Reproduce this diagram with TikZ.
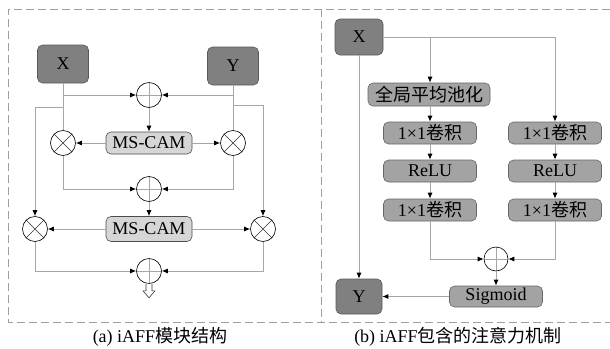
\documentclass[tikz,border=0pt]{standalone}
\usepackage{fontspec}
\setmainfont{Liberation Serif}
\newfontfamily\cjk{Noto Sans CJK SC}
\usetikzlibrary{arrows.meta,positioning}
\tikzset{
  frame/.style={draw=gray!75, line width=0.9pt, dash pattern=on 8pt off 4pt},
  boxbase/.style={rounded corners=5pt, line width=0.6pt, inner sep=0pt,
    font=\fontsize{18}{20}\selectfont, text=black},
  darkbox/.style={boxbase, fill=black!50, draw=black!65},
  lightbox/.style={boxbase, fill=black!16, draw=black!70},
  midbox/.style={boxbase, fill=black!36, draw=black!60},
  circbase/.style={circle, draw=black, line width=0.6pt, minimum size=25pt, inner sep=0pt, fill=white},
  oplus/.style={circbase, path picture={
      \draw[gray!70, line width=0.6pt] (path picture bounding box.north) -- (path picture bounding box.south)
        (path picture bounding box.west) -- (path picture bounding box.east);}},
  otimes/.style={circbase, path picture={
      \draw[black!80, line width=0.6pt] (path picture bounding box.center) ++(45:12.5pt) -- ++(225:25pt)
        (path picture bounding box.center) ++(135:12.5pt) -- ++(-45:25pt);}},
  wire/.style={draw=gray!70, line width=0.9pt},
  conn/.style={wire, -{Latex[length=6pt,width=5pt,color=black]}},
  captext/.style={font=\fontsize{18}{20}\selectfont}
}
\begin{document}
\begin{tikzpicture}[x=1pt,y=-1pt]
\useasboundingbox (0,0) rectangle (610,348);
% frames
\draw[frame] (610,9) -- (8,9) -- (8,322) -- (610,322);
\draw[frame] (321,9) -- (321,322);

% ---------------- left panel ----------------
\node[darkbox, minimum width=51pt, minimum height=38pt] (X) at (63,64) {X};
\node[darkbox, minimum width=51pt, minimum height=38pt] (Y) at (233,66) {Y};
\node[oplus] (p1) at (149,95) {};
\node[lightbox, minimum width=86pt, minimum height=22pt] (m1) at (149,143) {MS-CAM};
\node[otimes] (t1) at (63,143) {};
\node[otimes] (t2) at (233,143) {};
\node[oplus] (p2) at (149,189) {};
\node[lightbox, minimum width=86pt, minimum height=25pt] (m2) at (149,229) {MS-CAM};
\node[otimes] (t3) at (35,229) {};
\node[otimes] (t4) at (263,229) {};
\node[oplus] (p3) at (149,271) {};

\draw[conn] (X.south) |- (p1.west);
\draw[conn] (Y.south) |- (p1.east);
\draw[wire] (X.south) -- (t1.north);
\draw[wire] (Y.south) -- (t2.north);
\coordinate (bx) at (63,107);
\coordinate (by) at (233,105);
\draw[conn] (bx) -| (t3.north);
\draw[conn] (by) -| (t4.north);
\draw[conn] (p1.south) -- (m1.north);
\draw[conn] (m1.west) -- (t1.east);
\draw[conn] (m1.east) -- (t2.west);
\draw[conn] (t1.south) |- (p2.west);
\draw[conn] (t2.south) |- (p2.east);
\draw[conn] (p2.south) -- (m2.north);
\draw[conn] (m2.west) -- (t3.east);
\draw[conn] (m2.east) -- (t4.west);
\draw[conn] (t3.south) |- (p3.west);
\draw[conn] (t4.south) |- (p3.east);
% hollow output arrow
\draw[black!80, line width=0.6pt, fill=white] (p3.south) ++(-3,0) -- ++(0,7) -- ++(-3,0) -- ++(6,7) -- ++(6,-7) -- ++(-3,0) -- ++(0,-7);

\node[captext] (capa) at (160,337) {(a) iAFF{\cjk 模块结构}};

% ---------------- right panel ----------------
\node[darkbox, minimum width=48pt, minimum height=36pt] (X2) at (359,37) {X};
\node[midbox, minimum width=122pt, minimum height=23pt] (gap) at (429,94.5) {\cjk 全局平均池化};
\node[midbox, minimum width=93pt, minimum height=22pt] (c1) at (430,133) {1×1{\cjk 卷积}};
\node[midbox, minimum width=93pt, minimum height=22pt] (r1) at (430,171) {ReLU};
\node[midbox, minimum width=93pt, minimum height=22pt] (c2) at (430,210) {1×1{\cjk 卷积}};
\node[midbox, minimum width=93pt, minimum height=22pt] (c3) at (555,133) {1×1{\cjk 卷积}};
\node[midbox, minimum width=93pt, minimum height=22pt] (r2) at (555,171) {ReLU};
\node[midbox, minimum width=93pt, minimum height=22pt] (c4) at (555,210) {1×1{\cjk 卷积}};
\node[oplus, minimum size=24pt] (p4) at (496,259) {};
\node[midbox, minimum width=93pt, minimum height=21pt] (sig) at (496,296.5) {Sigmoid};
\node[darkbox, minimum width=46pt, minimum height=35pt] (Y2) at (359,296.5) {Y};

\draw[conn] (X2.east) -| (c3.north);
\coordinate (bb) at (430,37);
\draw[conn] (bb) -- (gap.north -| bb);
\draw[conn] (gap.south -| c1.north) -- (c1.north);
\draw[conn] (c1.south) -- (r1.north);
\draw[conn] (r1.south) -- (c2.north);
\draw[conn] (c3.south) -- (r2.north);
\draw[conn] (r2.south) -- (c4.north);
\draw[conn] (c2.south) |- (p4.west);
\draw[conn] (c4.south) |- (p4.east);
\draw[conn] (p4.south) -- (sig.north);
\draw[conn] (sig.west) -- (Y2.east);
\draw[conn] (X2.south) -- (Y2.north);

\node[captext] (capb) at (458,337) {(b) iAFF{\cjk 包含的注意力机制}};
\end{tikzpicture}
\end{document}
